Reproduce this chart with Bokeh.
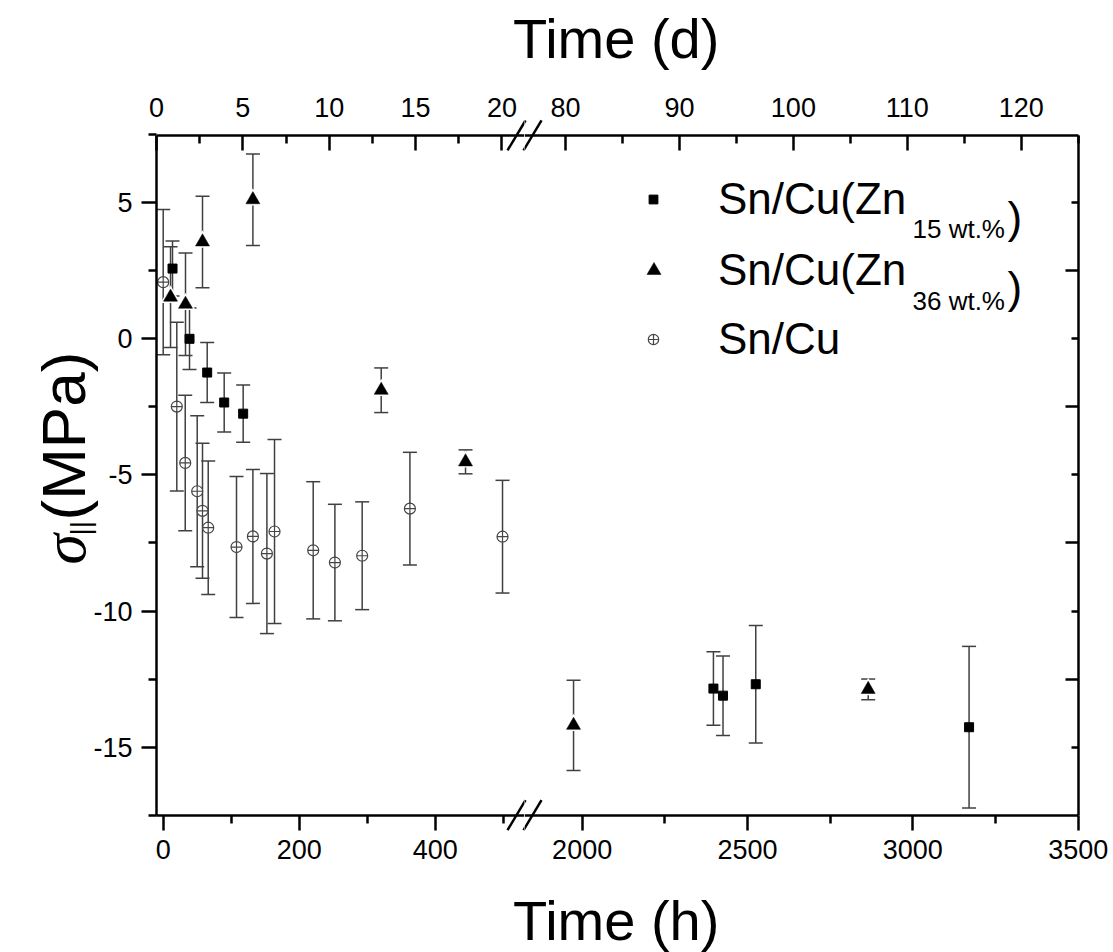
from bokeh.plotting import figure
from bokeh.models import (Range1d, LinearAxis, FixedTicker, Whisker, TeeHead, ColumnDataSource,
                          Legend, LegendItem, Label, Div, Arrow)
from bokeh.layouts import column, row
from bokeh.embed import file_html
from bokeh.resources import INLINE

# ---------------- data (hours, MPa, MPa error) ----------------
cu_hours = [0, 20, 32.4, 50, 57.8, 66.2, 107.8, 131.9, 152.5, 163.7, 220.6, 252.5, 292.6, 362.8, 499]
cu_sigma = [2.08, -2.49, -4.56, -5.60, -6.32, -6.94, -7.65, -7.26, -7.89, -7.08, -7.77, -8.22, -7.97, -6.24, -7.27]
cu_err = [2.67, 3.10, 2.49, 2.77, 2.48, 2.45, 2.59, 2.46, 2.94, 3.38, 2.52, 2.14, 1.98, 2.07, 2.07]

zn15_hours = [13.7, 38.7, 64.7, 89.7, 117.6, 2397, 2426, 2525, 3170]
zn15_sigma = [2.58, 0.0, -1.24, -2.34, -2.75, -12.85, -13.11, -12.69, -14.27]
zn15_err = [1.01, 1.13, 1.10, 1.08, 1.05, 1.35, 1.46, 2.16, 2.97]

zn36_hours = [10.8, 32.8, 57.8, 131.9, 320.6, 444.6, 1974, 2865]
zn36_sigma = [1.53, 1.27, 3.56, 5.11, -1.89, -4.52, -14.20, -12.88]
zn36_err = [1.85, 1.88, 1.68, 1.68, 0.82, 0.44, 1.66, 0.38]

# ticks / labels
y_ticks = [-15, -10, -5, 0, 5]
y_tick_labels = ["-15", "-10", "-5", "0", "5"]
y_minor = [-17.5, -12.5, -7.5, -2.5, 2.5, 7.5]
h_ticks_left = [0, 200, 400]
h_labels_left = ["0", "200", "400"]
h_minor_left = [100, 300, 500]
h_ticks_right = [2000, 2500, 3000, 3500]
h_labels_right = ["2000", "2500", "3000", "3500"]
h_minor_right = [2250, 2750, 3250]
d_ticks_left = [0, 5, 10, 15, 20]
d_labels_left = ["0", "5", "10", "15", "20"]
d_minor_left = [2.5, 7.5, 12.5, 17.5]
d_ticks_right = [80, 90, 100, 110, 120]
d_labels_right = ["80", "90", "100", "110", "120"]
d_minor_right = [85, 95, 105, 115, 125]
right_major = [-12.5, -7.5, -2.5, 2.5]
right_minor = [-15, -10, -5, 0, 5]

legend_labels = ["Sn/Cu(Zn", "Sn/Cu(Zn", "Sn/Cu"]
legend_subs = ["15 wt.%", "36 wt.%"]

# ---------------- layout constants ----------------
FONT = "Liberation Sans"
Y_AXIS = (-17.5, 7.47)          # visible axis span
PX_PER_MPA = 27.22
Y0_PAGE = 338.3                  # page y of sigma = 0
TOP_DIV_H = 70
FRAME_TOP, FRAME_BOT = 82, 868   # page y of (extended) frames
FIG_TOP_B = FRAME_TOP - TOP_DIV_H
FIG_BOT_B = 2
FIG_H = FIG_TOP_B + (FRAME_BOT - FRAME_TOP) + FIG_BOT_B
Y_RANGE = ((Y0_PAGE - FRAME_BOT) / PX_PER_MPA, (Y0_PAGE - FRAME_TOP) / PX_PER_MPA)

# left segment: hours scale
L_PX0, L_PXH = 162.7, 0.68       # page x of 0 h, px per hour
LEFT_W = 524
H_LEFT = ((0 - L_PX0) / L_PXH, (LEFT_W - L_PX0) / L_PXH)
H_LEFT_AXIS = ((156 - L_PX0) / L_PXH, H_LEFT[1])
D_PX0, D_PXD = 156.0, 17.27
D_LEFT = ((0 - D_PX0) / D_PXD, (LEFT_W - D_PX0) / D_PXD)

# right segment (frame extended past the visible right axis at 3500 h)
RIGHT_W = 1113 - LEFT_W
R_AXIS_PX = 1077.7
H_RIGHT_AXIS = (1825.7, 3500)
RX_PER_PX = (H_RIGHT_AXIS[1] - H_RIGHT_AXIS[0]) / (R_AXIS_PX - 524)
H_RIGHT = (H_RIGHT_AXIS[0], H_RIGHT_AXIS[0] + RIGHT_W * RX_PER_PX)
D_RIGHT_AXIS = (76.4, 125.0)
RD_PER_PX = (D_RIGHT_AXIS[1] - D_RIGHT_AXIS[0]) / (R_AXIS_PX - 524)
D_RIGHT = (D_RIGHT_AXIS[0], D_RIGHT_AXIS[0] + RIGHT_W * RD_PER_PX)

ERR_COLOR = "#404040"


def make_fig(xr, dr, width):
    p = figure(width=width, height=FIG_H, x_range=Range1d(*xr), y_range=Range1d(*Y_RANGE),
               x_axis_type=None, y_axis_type=None, output_backend="svg", toolbar_location=None,
               title_location=None,
               min_border_left=0, min_border_right=0, min_border_top=FIG_TOP_B, min_border_bottom=FIG_BOT_B)
    p.extra_x_ranges = {"days": Range1d(*dr)}
    p.outline_line_color = None
    p.background_fill_color = "white"
    p.border_fill_color = "white"
    return p


def style_axis(ax, t_in, t_out, m_in, m_out, standoff):
    ax.axis_line_width = 2.5
    ax.axis_line_color = "black"
    ax.major_tick_line_width = 2.5
    ax.minor_tick_line_width = 2.5
    ax.major_tick_line_color = "black"
    ax.minor_tick_line_color = "black"
    ax.major_tick_in = t_in
    ax.major_tick_out = t_out
    ax.minor_tick_in = m_in
    ax.minor_tick_out = m_out
    ax.major_label_standoff = standoff
    ax.major_label_text_font = FONT
    ax.major_label_text_font_size = "27px"
    ax.major_label_text_color = "black"


left = make_fig(H_LEFT, D_LEFT, LEFT_W)
right = make_fig(H_RIGHT, D_RIGHT, RIGHT_W)

# ---- axes, left figure
ax = LinearAxis(ticker=FixedTicker(ticks=y_ticks, minor_ticks=y_minor), bounds=Y_AXIS,
                fixed_location=H_LEFT_AXIS[0],
                major_label_overrides=dict(zip(y_ticks, y_tick_labels)))
style_axis(ax, 0, 15, 0, 8, 9)
left.add_layout(ax, "left")
ax = LinearAxis(ticker=FixedTicker(ticks=h_ticks_left, minor_ticks=h_minor_left), bounds=H_LEFT_AXIS,
                fixed_location=Y_AXIS[0],
                major_label_overrides=dict(zip(h_ticks_left, h_labels_left)))
style_axis(ax, 0, 15, 0, 8, 10)
left.add_layout(ax, "below")
ax = LinearAxis(x_range_name="days", ticker=FixedTicker(ticks=d_ticks_left, minor_ticks=d_minor_left),
                bounds=(0, D_LEFT[1]), fixed_location=Y_AXIS[1],
                major_label_overrides=dict(zip(d_ticks_left, d_labels_left)))
style_axis(ax, 15, 0, 8, 0, 18)
left.add_layout(ax, "above")

# ---- axes, right figure
ax = LinearAxis(ticker=FixedTicker(ticks=h_ticks_right, minor_ticks=h_minor_right),
                bounds=H_RIGHT_AXIS, fixed_location=Y_AXIS[0],
                major_label_overrides=dict(zip(h_ticks_right, h_labels_right)))
style_axis(ax, 0, 15, 0, 8, 10)
right.add_layout(ax, "below")
ax = LinearAxis(x_range_name="days", ticker=FixedTicker(ticks=d_ticks_right, minor_ticks=d_minor_right),
                bounds=D_RIGHT_AXIS, fixed_location=Y_AXIS[1],
                major_label_overrides=dict(zip(d_ticks_right, d_labels_right)))
style_axis(ax, 15, 0, 8, 0, 18)
right.add_layout(ax, "above")
ax = LinearAxis(ticker=FixedTicker(ticks=right_major, minor_ticks=right_minor), bounds=Y_AXIS,
                fixed_location=H_RIGHT_AXIS[1],
                major_label_overrides={t: "" for t in right_major})
style_axis(ax, 13, 0, 7, 0, 0)
right.add_layout(ax, "right")

# ---------------- data marks ----------------


def series(hours, sigma, err):
    up = [s + e for s, e in zip(sigma, err)]
    lo = [s - e for s, e in zip(sigma, err)]
    return ColumnDataSource(dict(h=hours, s=sigma, up=up, lo=lo))


src_cu = series(cu_hours, cu_sigma, cu_err)
src_15 = series(zn15_hours, zn15_sigma, zn15_err)
src_36 = series(zn36_hours, zn36_sigma, zn36_err)

renderers = {}
for p in (left, right):
    for src in (src_cu, src_15, src_36):
        p.add_layout(Whisker(source=src, base="h", upper="up", lower="lo", dimension="height",
                             line_color=ERR_COLOR, line_width=1.5,
                             upper_head=TeeHead(size=14, line_color=ERR_COLOR, line_width=1.5),
                             lower_head=TeeHead(size=14, line_color=ERR_COLOR, line_width=1.5)))
    r_cu = p.scatter("h", "s", source=src_cu, marker="circle_cross", size=11,
                     line_color="#454545", fill_color="white", line_width=1.2)
    r_36w = p.scatter("h", "s", source=src_36, marker="triangle", size=20,
                      line_color=None, fill_color="white")
    r_36 = p.scatter("h", "s", source=src_36, marker="triangle", size=14,
                     line_color="black", fill_color="black", line_width=0.5)
    r_15 = p.scatter("h", "s", source=src_15, marker="square", size=9,
                     line_color="black", fill_color="black")
    renderers[id(p)] = ([r_15], [r_36w, r_36], [r_cu])

# ---------------- legend (right figure) ----------------
LEG_GLYPH_X = 653 - 524       # frame x of legend glyph centres
LEG_TEXT_X = 718 - 524        # frame x where legend text starts
leg_rows = [199, 270, 338.5]   # page y of item centres
leg_glyph_w = [22, 35, 26]     # marker size is 0.4 * glyph box
for lab, rs, yc, gw in zip(legend_labels, renderers[id(right)], leg_rows, leg_glyph_w):
    vx = LEG_GLYPH_X - gw // 2
    vy = FRAME_BOT - (yc + 30)
    lg = Legend(items=[LegendItem(label=lab, renderers=rs)], location=(vx, vy),
                glyph_width=gw, glyph_height=60, label_height=60,
                label_standoff=int(LEG_TEXT_X - vx - gw),
                padding=0, margin=0, spacing=0, border_line_color=None,
                background_fill_alpha=0, label_text_font=FONT, label_text_font_size="44px",
                label_text_color="black")
    right.add_layout(lg)


def rdx(px_page):
    return H_RIGHT[0] + (px_page - 524) * RX_PER_PX


def ldx(px_page):
    return (px_page - L_PX0) / L_PXH


def dy(py_page):
    return (Y0_PAGE - py_page) / PX_PER_MPA


for sub, base_main, base_sub in zip(legend_subs, [217, 287], [228, 300]):
    right.add_layout(Label(x=rdx(912), y=dy(base_sub), text=sub,
                           text_font=FONT, text_font_size="26px", text_color="black",
                           text_baseline="alphabetic", text_align="left"))
    right.add_layout(Label(x=rdx(1007), y=dy(base_main), text=")",
                           text_font=FONT, text_font_size="44px", text_color="black",
                           text_baseline="alphabetic", text_align="left"))

# ---------------- y-axis title (inside the extended left frame) ----------------
left.add_layout(Label(x=ldx(63), y=dy(564), text="σ", angle=1.5708,
                      text_font="Liberation Serif", text_font_style="italic", text_font_size="62px",
                      text_color="black", text_baseline="alphabetic", text_align="left"))
left.add_layout(Label(x=ldx(80), y=dy(535), text="||", angle=1.5708,
                      text_font=FONT, text_font_size="28px",
                      text_color="black", text_baseline="alphabetic", text_align="left"))
left.add_layout(Label(x=ldx(63), y=dy(520), text="(MPa)", angle=1.5708,
                      text_font=FONT, text_font_size="62px",
                      text_color="black", text_baseline="alphabetic", text_align="left"))

# ---------------- axis break marks ----------------
for p, to_x, xb in ((left, ldx, 524), (right, rdx, 524)):
    for yb in (Y_AXIS[0], Y_AXIS[1]):
        yb_px = Y0_PAGE - yb * PX_PER_MPA
        for x0 in (xb - 17, xb - 1):
            p.add_layout(Arrow(end=None, x_start=to_x(x0), y_start=dy(yb_px + 15),
                               x_end=to_x(x0 + 18), y_end=dy(yb_px - 15),
                               line_width=2.5, line_color="black"))

title_style = {"font-family": "'Liberation Sans', Arial, sans-serif", "font-size": "56px",
               "text-align": "left", "text-indent": "513px", "color": "black",
               "white-space": "nowrap"}
top_div = Div(text="Time (d)", width=1113, height=TOP_DIV_H, margin=0,
              styles=dict(title_style, **{"line-height": "77px"}))
bot_h = 952 - TOP_DIV_H - FIG_H
bot_div = Div(text="Time (h)", width=1113, height=bot_h, margin=0,
              styles=dict(title_style, **{"line-height": "101px"}))

layout = column(top_div, row(left, right), bot_div)
open("out.html", "w").write(file_html(layout, INLINE))
